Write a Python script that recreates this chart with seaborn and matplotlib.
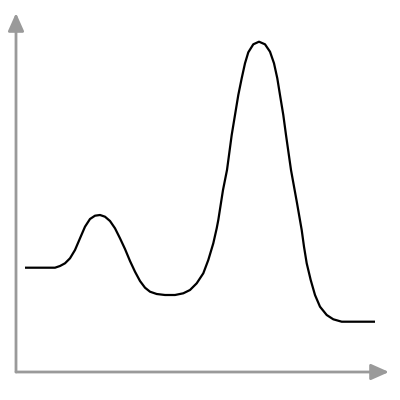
import matplotlib
matplotlib.use("Agg")
import matplotlib.pyplot as plt
import seaborn as sns
import pandas as pd

# Reaction coordinate (x) and energy (y)
reaction_coord = [9, 39, 44, 49, 54, 59, 64, 69, 74, 79, 84, 89, 94, 99, 104,
                  109, 114, 119, 124, 129, 134, 140.7, 149, 159, 167.3, 174,
                  180.7, 187.3, 192.3, 197.3, 200.7, 202.3, 207, 211, 215.7,
                  219, 222.3, 225.7, 229, 232.3, 237.3, 243, 249, 254, 258,
                  261.3, 264, 267.3, 270, 275, 281, 285.7, 288, 290.7, 294.7,
                  299, 304, 310.7, 317.3, 325.7, 359]
energy = [104.3, 104.3, 106, 108.7, 113.7, 122, 133.7, 145.3, 153, 156.3, 157,
          155.3, 151, 143.7, 133.7, 123, 111, 100.3, 91, 84.3, 80.3, 78, 77,
          77, 78.7, 82, 88.7, 98.7, 112, 128.7, 143.7, 152, 182, 202, 237,
          257, 277, 293.7, 308.7, 319.7, 327.7, 330.3, 327.7, 320.3, 308.7,
          293.7, 277, 257, 237, 202, 169, 142, 125.3, 108.7, 92, 77, 65.3,
          57, 52.7, 50.3, 50.3]

df = pd.DataFrame({"x": reaction_coord, "y": energy})

sns.set_theme(style="white")
fig = plt.figure(figsize=(4, 4), dpi=100)
ax = fig.add_axes([0, 0, 1, 1])
ax.set_xlim(-16, 384)
ax.set_ylim(-28, 372)

axis_color = "#9a9a9a"
arrow = dict(arrowstyle="-|>,head_length=0.9,head_width=0.4",
             color=axis_color, lw=2, shrinkA=0, shrinkB=0)
ax.annotate("", xy=(373, 0), xytext=(0, 0), arrowprops=arrow)
ax.annotate("", xy=(0, 359), xytext=(0, 0), arrowprops=arrow)

sns.lineplot(data=df, x="x", y="y", ax=ax, color="black", linewidth=1.6,
             sort=False, estimator=None, solid_joinstyle="round",
             solid_capstyle="butt")
ax.axis("off")

fig.savefig("out.png", dpi=100, facecolor="white")
